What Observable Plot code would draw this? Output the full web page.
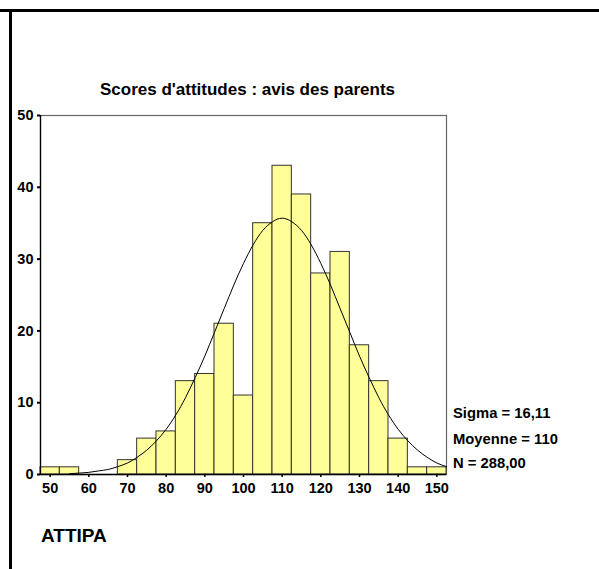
<!DOCTYPE html>
<html>
<head>
<meta charset="utf-8">
<script src="https://cdn.jsdelivr.net/npm/d3@7"></script>
<script src="https://cdn.jsdelivr.net/npm/@observablehq/plot@0.6"></script>
<style>
  html, body { margin: 0; padding: 0; background: #fff; }
  #chart svg { display: block; }
</style>
</head>
<body>
<div id="chart"></div>
<script>
// Histogram bins (centres, width 5) and counts
const binCenters = [50, 55, 60, 65, 70, 75, 80, 85, 90, 95, 100, 105, 110, 115, 120, 125, 130, 135, 140, 145, 150];
const counts     = [1,  1,  0,  0,  2,  5,  6,  13, 14, 21, 11,  35,  43,  39,  28,  31,  18,  13,  5,   1,   1];
const binWidth = 5;

// Fitted normal curve
const curveX = [55, 57.5, 60, 62.5, 65, 67.5, 70, 72.5, 75, 77.5, 80, 82.5, 85, 87.5, 90, 92.5, 95, 97.5, 100, 102.5, 105, 107.5, 110,
                112.5, 115, 117.5, 120, 122.5, 125, 127.5, 130, 132.5, 135, 137.5, 140, 142.5, 145, 147.5, 150, 152.5];
const curveY = [0.1, 0.2, 0.3, 0.5, 0.7, 1.1, 1.6, 2.4, 3.4, 4.7, 6.3, 8.3, 10.7, 13.5, 16.5, 19.8, 23.1, 26.4, 29.4, 32.0, 34.0, 35.2, 35.7,
                35.2, 34.0, 32.0, 29.4, 26.4, 23.1, 19.8, 16.5, 13.5, 10.7, 8.3, 6.3, 4.7, 3.4, 2.4, 1.6, 1.1];

const xTicks = [50, 60, 70, 80, 90, 100, 110, 120, 130, 140, 150];
const yTicks = [0, 10, 20, 30, 40, 50];

const title = "Scores d'attitudes : avis des parents";
const stats = ["Sigma = 16,11", "Moyenne = 110", "N = 288,00"];
const varName = "ATTIPA";

const bars = binCenters.map((c, i) => ({x1: c - binWidth / 2, x2: c + binWidth / 2, y: counts[i]})).filter(d => d.y > 0);
const curve = curveX.map((x, i) => ({x, y: curveY[i]}));

const font = "'Liberation Sans', Arial, sans-serif";

const chart = Plot.plot({
  width: 599,
  height: 569,
  marginLeft: 40,
  marginRight: 153,
  marginTop: 115,
  marginBottom: 95,
  style: {fontFamily: font, fontSize: "14.5px", fontWeight: "bold", color: "#000", background: "#fff"},
  x: {domain: [47.5, 152.5]},
  y: {domain: [0, 50]},
  marks: [
    Plot.frame({stroke: "#666", strokeWidth: 1.2}),
    Plot.rectY(bars, {x1: "x1", x2: "x2", y: "y", fill: "#ffff99", stroke: "#333", strokeWidth: 1}),
    Plot.line(curve, {x: "x", y: "y", curve: "natural", stroke: "#000", strokeWidth: 1}),
    Plot.ruleX([47.5], {stroke: "#000", strokeWidth: 1.3}),
    Plot.ruleY([0], {stroke: "#000", strokeWidth: 1.3}),
    Plot.axisY({ticks: yTicks, tickSize: 3, tickPadding: 4, tickFormat: d => String(d), label: null, stroke: "#000", strokeWidth: 2}),
    Plot.axisX({ticks: xTicks, tickSize: 3, tickPadding: 5, tickFormat: d => String(d), label: null, stroke: "#000", strokeWidth: 1.5})
  ]
});

const svg = d3.select(chart);
// outer borders (top and left)
svg.append("line").attr("x1", 0).attr("x2", 599).attr("y1", 10.5).attr("y2", 10.5).attr("stroke", "#000").attr("stroke-width", 3);
svg.append("line").attr("x1", 10.5).attr("x2", 10.5).attr("y1", 9).attr("y2", 569).attr("stroke", "#000").attr("stroke-width", 3);

svg.append("text").attr("x", 247.5).attr("y", 95).attr("text-anchor", "middle")
  .attr("font-family", font).attr("font-size", 17).attr("font-weight", "bold").attr("fill", "#000").text(title);

stats.forEach((s, i) => {
  svg.append("text").attr("x", 453).attr("y", [418, 444, 468][i]).attr("text-anchor", "start")
    .attr("font-family", font).attr("font-size", 14.8).attr("font-weight", "bold").attr("fill", "#000").text(s);
});

svg.append("text").attr("x", 41).attr("y", 542).attr("text-anchor", "start")
  .attr("font-family", font).attr("font-size", 19).attr("font-weight", "bold").attr("fill", "#000").text(varName);

document.getElementById("chart").appendChild(chart);
</script>
</body>
</html>
